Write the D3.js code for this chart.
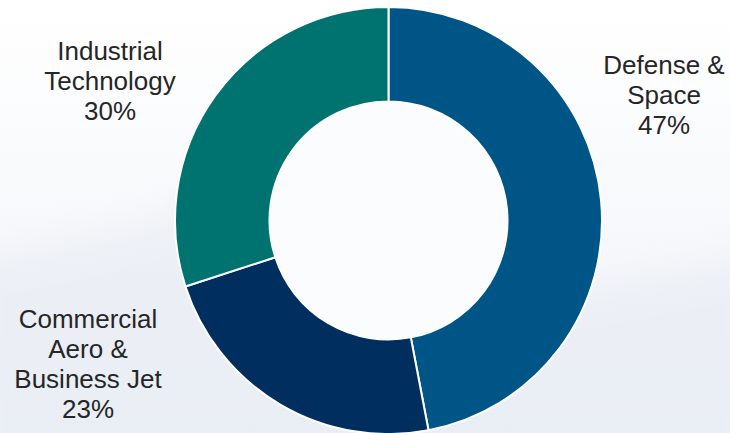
<!DOCTYPE html>
<html>
<head>
<meta charset="utf-8">
<script src="https://cdn.jsdelivr.net/npm/d3@7"></script>
<style>
  html, body { margin: 0; padding: 0; background: #fff; }
  #chart { width: 730px; height: 433px; }
  .label { font-family: "Liberation Sans", Arial, Helvetica, sans-serif; }
</style>
</head>
<body>
<div id="chart"></div>
<script>
// Data
const categories = ["Defense & Space", "Commercial Aero & Business Jet", "Industrial Technology"];
const shares = [47, 23, 30];
const labelLines = [
  ["Defense &", "Space", "47%"],
  ["Commercial", "Aero &", "Business Jet", "23%"],
  ["Industrial", "Technology", "30%"]
];

const colors = ["#005587", "#002f5f", "#007370"];
// first-line baseline of each label block (layout, not data)
const labelAnchors = [[664, 74], [88, 328], [110, 60]];

const width = 730, height = 433;
const cx = 388.5, cy = 220.5;
const outerR = 213.5, innerR = 119;

const svg = d3.select("#chart")
  .append("svg")
  .attr("width", width)
  .attr("height", height);

// soft background
const defs = svg.append("defs");
const grad = defs.append("linearGradient")
  .attr("id", "bg")
  .attr("x1", 0).attr("y1", 0).attr("x2", 0).attr("y2", 1);
grad.append("stop").attr("offset", "0%").attr("stop-color", "#ffffff");
grad.append("stop").attr("offset", "40%").attr("stop-color", "#f9fafc");
grad.append("stop").attr("offset", "100%").attr("stop-color", "#f0f3f8");

svg.append("rect")
  .attr("width", width).attr("height", height)
  .attr("fill", "url(#bg)");

const blur = defs.append("filter").attr("id", "soft")
  .attr("x", "-20%").attr("y", "-20%").attr("width", "140%").attr("height", "140%");
blur.append("feGaussianBlur").attr("stdDeviation", 18);

// faint mountain silhouette
svg.append("path")
  .attr("d", "M-40,260 L150,220 L290,150 L420,240 L560,290 L770,250 L770,480 L-40,480 Z")
  .attr("fill", "#e6ebf3")
  .attr("opacity", 0.6)
  .attr("filter", "url(#soft)");

const pie = d3.pie()
  .sort(null)
  .value(d => d);

const arc = d3.arc()
  .innerRadius(innerR)
  .outerRadius(outerR);

const g = svg.append("g")
  .attr("transform", `translate(${cx},${cy})`);

g.selectAll(".slice")
  .data(pie(shares))
  .enter()
  .append("path")
  .attr("class", "slice")
  .attr("d", arc)
  .attr("fill", (d, i) => colors[i])
  .attr("stroke", "#ffffff")
  .attr("stroke-width", 2);

// inner hole fill
g.append("circle")
  .attr("r", innerR - 1)
  .attr("fill", "#fbfcfe");

// Labels
const labels = svg.selectAll(".label")
  .data(categories)
  .enter()
  .append("text")
  .attr("class", "label")
  .attr("x", (d, i) => labelAnchors[i][0])
  .attr("y", (d, i) => labelAnchors[i][1])
  .attr("text-anchor", "middle")
  .attr("font-size", 26)
  .attr("fill", "#262626");

labels.each(function(d, i) {
  const t = d3.select(this);
  labelLines[i].forEach((line, j) => {
    t.append("tspan")
      .attr("x", labelAnchors[i][0])
      .attr("dy", j === 0 ? 0 : 30)
      .text(line);
  });
});
</script>
</body>
</html>
